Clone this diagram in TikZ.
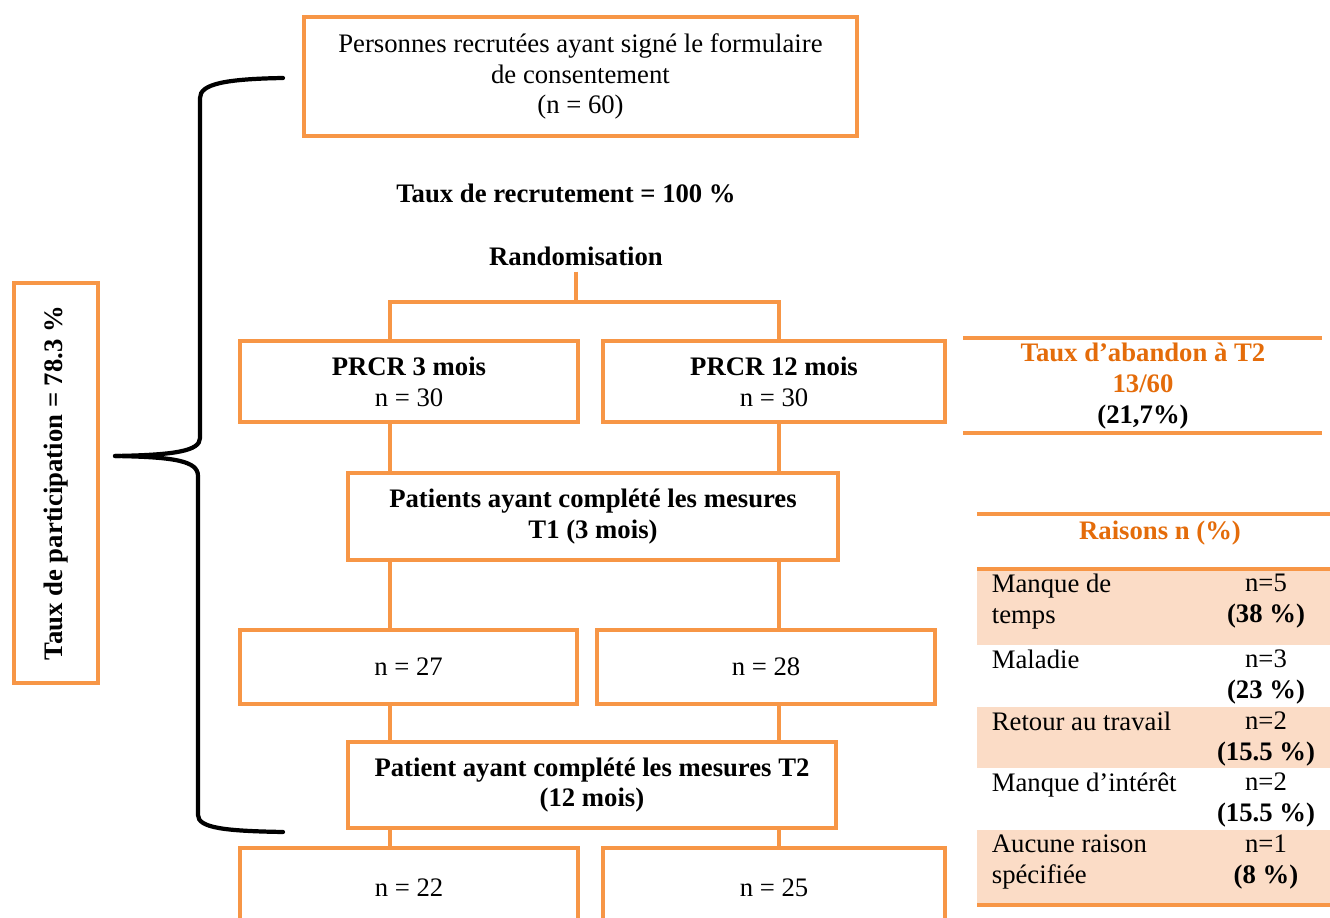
\documentclass[tikz,border=0pt]{standalone}
\usepackage{fontspec}
\setmainfont{Liberation Serif}
\usetikzlibrary{calc}

\definecolor{boxorange}{HTML}{F79646}
\definecolor{txtorange}{HTML}{E46C0A}
\definecolor{rowfill}{HTML}{FBDCC6}

\def\u{0.02cm}
\def\txt{\fontsize{15.2}{17.5}\selectfont}

\tikzset{
  box/.style={draw=boxorange, line width=2.8pt, rectangle, align=center,
    font=\txt, inner sep=2pt},
  link/.style={draw=boxorange, line width=2.3pt},
  label/.style={font=\txt\bfseries, align=center},
  cell/.style={font=\txt, inner sep=2pt},
  rule/.style={draw=boxorange, line width=1.8pt}
}

\begin{document}
\begin{tikzpicture}[x=\u, y=-\u]
  \useasboundingbox (0,0) rectangle (1330,918);

  % --- 1. colonnes des liens ---
  \def\xL{390}
  \def\xR{779}
  \coordinate (colL) at (\xL,0);
  \coordinate (colR) at (\xR,0);
  \coordinate (split) at (576,302);

  % --- 2. boites du diagramme ---
  \node[box, minimum width=553*\u, minimum height=119*\u] (recr) at (580.5,76.5)
    {Personnes recrutées ayant signé le formulaire\\de consentement\\(n = 60)};
  \node[label] (taux) at (566,193) {Taux de recrutement = 100 \%};
  \node[label] (rand) at (576,256) {Randomisation};

  \node[box, minimum width=338*\u, minimum height=81*\u] (rc3) at (409,381.5)
    {\textbf{PRCR 3 mois}\\n = 30};
  \node[box, minimum width=342*\u, minimum height=81*\u] (rc12) at (774,381.5)
    {\textbf{PRCR 12 mois}\\n = 30};

  \node[box, minimum width=490*\u, minimum height=87*\u, font=\txt\bfseries] (t1) at (593,516.5)
    {Patients ayant complété les mesures\\T1 (3 mois)};

  \node[box, minimum width=337*\u, minimum height=74*\u] (n27) at (408.5,667) {n = 27};
  \node[box, minimum width=338*\u, minimum height=74*\u] (n28) at (766,667) {n = 28};

  \node[box, minimum width=488*\u, minimum height=86*\u, font=\txt\bfseries] (t2) at (592,785)
    {Patient ayant complété les mesures T2\\(12 mois)};

  \node[box, minimum width=338*\u, minimum height=80*\u] (n22) at (409,888) {n = 22};
  \node[box, minimum width=342*\u, minimum height=80*\u] (n25) at (774,888) {n = 25};

  % --- 3. liens ---
  \draw[link] (rand.south) -- (split);
  \draw[link] (rc3.north -| colL) |- (split) -| (rc12.north -| colR);
  \draw[link] (rc3.south -| colL) -- (t1.north -| colL);
  \draw[link] (rc12.south -| colR) -- (t1.north -| colR);
  \draw[link] (t1.south -| colL) -- (n27.north -| colL);
  \draw[link] (t1.south -| colR) -- (n28.north -| colR);
  \draw[link] (n27.south -| colL) -- (t2.north -| colL);
  \draw[link] (n28.south -| colR) -- (t2.north -| colR);
  \draw[link] (t2.south -| colL) -- (n22.north -| colL);
  \draw[link] (t2.south -| colR) -- (n25.north -| colR);

  % --- 4. accolade et taux de participation ---
  \node[box, minimum width=400*\u, minimum height=84*\u, rotate=90] (part) at (56,483)
    {\textbf{Taux de participation = 78.3 \%}};
  \draw[line width=2.4pt, line cap=round]
    (283,78) .. controls (225,79) and (200,84) .. (200,98) -- (200,438)
    .. controls (200,451) and (175,455) .. (115,456);
  \draw[line width=2.4pt, line cap=round]
    (115,456) .. controls (175,457) and (198,461) .. (198,476) -- (198,815)
    .. controls (198,828) and (225,831) .. (283,832);

  % --- 5. taux d'abandon ---
  \draw[rule] (963,338) -- (1322,338);
  \draw[rule] (963,433) -- (1322,433);
  \node[label] (aband) at (1143,386)
    {\textcolor{txtorange}{Taux d’abandon à T2}\\\textcolor{txtorange}{13/60}\\(21,7\%)};

  % --- 6. tableau des raisons ---
  \draw[rule] (977,514) -- (1330,514);
  \node[label, text=txtorange] (rais) at (1160,533) {Raisons n (\%)};
  \foreach \ytop/\yh/\shade/\why/\nn/\pct [count=\i] in
    {569/76/rowfill/{Manque de\\temps}/5/38,
     645/62/white/Maladie/3/23,
     707/61/rowfill/Retour au travail/2/15.5,
     768/62/white/{Manque d’intérêt}/2/15.5,
     830/74/rowfill/{Aucune raison\\spécifiée}/1/8}
  {
    \fill[\shade] (977,\ytop) rectangle (1330,{\ytop+\yh});
    \node[cell, anchor=north west, align=left] (why\i) at (988,{\ytop+1}) {\why};
    \node[cell, anchor=north, align=center] (cnt\i) at (1266,{\ytop+1})
      {n=\nn\\\textbf{(\pct~\%)}};
  }
  \draw[draw=boxorange, line width=2.4pt] (977,569) -- (1330,569);
  \draw[draw=boxorange, line width=2.8pt] (977,905) -- (1330,905);

\end{tikzpicture}
\end{document}
